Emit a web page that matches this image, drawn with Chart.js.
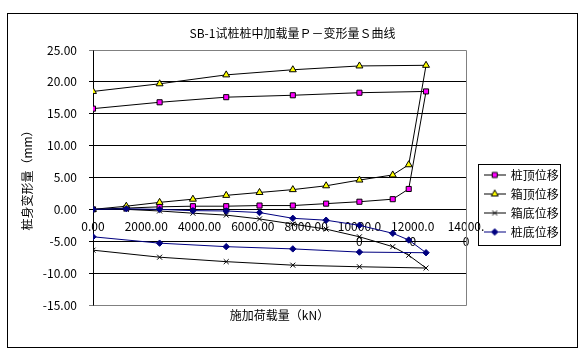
<!DOCTYPE html>
<html>
<head>
<meta charset="utf-8">
<script src="https://cdn.jsdelivr.net/npm/chart.js@4/dist/chart.umd.min.js"></script>
<style>
html,body{margin:0;padding:0;background:#fff;}
#wrap{width:585px;height:357px;}
</style>
</head>
<body>
<div id="wrap"><canvas id="c" width="585" height="357"></canvas></div>
<script>
// ---- data ----
const chartTitle = 'SB-1试桩桩中加载量Ｐ－变形量Ｓ曲线';
const xTitle = '施加荷载量（kN）';
const yTitle = '桩身变形量（mm）';
const seriesNames = ['桩顶位移', '箱顶位移', '箱底位移', '桩底位移'];
const loads = [0, 1250, 2500, 3750, 5000, 6250, 7500, 8750, 10000, 11250, 11850, 12500, 10000, 7500, 5000, 2500, 0];
const pileTop = [0, 0.2, 0.4, 0.5, 0.5, 0.6, 0.6, 0.9, 1.2, 1.6, 3.2, 18.5, 18.3, 17.9, 17.6, 16.8, 15.8];
const boxTop = [0, 0.5, 1.1, 1.6, 2.2, 2.65, 3.1, 3.7, 4.6, 5.4, 7.0, 22.6, 22.5, 21.9, 21.1, 19.7, 18.5];
const boxBottom = [0, 0, -0.25, -0.6, -0.9, -1.5, -2.3, -3.1, -4.3, -5.85, -7.2, -9.2, -9.0, -8.75, -8.2, -7.5, -6.4];
const pileBottom = [0, 0.1, 0, -0.2, -0.25, -0.5, -1.4, -1.7, -2.5, -3.75, -4.8, -6.8, -6.7, -6.2, -5.85, -5.3, -4.3];
const xTickLabels = ['0.00', '2000.00', '4000.00', '6000.00', '8000.00', ['10000.0', '0'], ['12000.0', '0'], ['14000.', '0']];

// ---- styles ----
const styles = [
  {line: '#000000', fill: '#FF00FF', border: '#000000', shape: 'rect', r: 3.6},
  {line: '#000000', fill: '#FFFF00', border: '#000000', shape: 'triangle', r: 4},
  {line: '#000000', fill: '#000000', border: '#000000', shape: 'crossRot', r: 3.5},
  {line: '#000080', fill: '#000080', border: '#000080', shape: 'rectRot', r: 3.2}
];
const seriesValues = [pileTop, boxTop, boxBottom, pileBottom];

function makeIcon(st) {
  const cv = document.createElement('canvas');
  cv.width = 22; cv.height = 11;
  const g = cv.getContext('2d');
  g.strokeStyle = st.line; g.lineWidth = 1;
  g.beginPath(); g.moveTo(0, 5.5); g.lineTo(22, 5.5); g.stroke();
  g.fillStyle = st.fill; g.strokeStyle = st.border; g.lineWidth = 1;
  Chart.helpers.drawPoint(g, {pointStyle: st.shape, radius: st.r, borderWidth: 1, rotation: 0}, 11, 5.5);
  return cv;
}

const datasets = seriesValues.map((vals, i) => ({
  label: seriesNames[i],
  data: loads.map((x, k) => ({x: x, y: vals[k]})),
  showLine: true,
  borderColor: styles[i].line,
  borderWidth: 1,
  backgroundColor: styles[i].fill,
  pointStyle: styles[i].shape,
  pointRadius: styles[i].r,
  pointBackgroundColor: styles[i].fill,
  pointBorderColor: styles[i].border,
  pointBorderWidth: 1,
  tension: 0,
  yAxisID: 'y',
  order: 3 - i
}));

const framePlugin = {
  id: 'frame',
  beforeDraw(chart) {
    const c = chart.ctx;
    c.save(); c.fillStyle = '#fff'; c.fillRect(0, 0, chart.width, chart.height); c.restore();
  },
  afterLayout(chart) {
    const lg = chart.legend;
    if (lg) {
      lg.left = 477.7; lg.top = 162; lg.right = lg.left + 100; lg.bottom = lg.top + 100;
      lg.width = 100; lg.height = 100;
    }
  },
  beforeDatasetsDraw(chart) {
    const a = chart.chartArea, c = chart.ctx;
    c.save();
    c.strokeStyle = '#808080'; c.lineWidth = 1;
    c.beginPath();
    c.moveTo(Math.round(a.left) + 0.5, Math.round(a.top) + 0.5);
    c.lineTo(Math.round(a.right) + 0.5, Math.round(a.top) + 0.5);
    c.lineTo(Math.round(a.right) + 0.5, Math.round(a.bottom) + 0.5);
    c.lineTo(Math.round(a.left) + 0.5, Math.round(a.bottom) + 0.5);
    c.stroke();
    c.restore();
  },
  afterDraw(chart) {
    const c = chart.ctx;
    c.save();
    c.strokeStyle = '#000'; c.lineWidth = 1;
    c.strokeRect(7.5, 13.5, 570, 334);
    c.strokeRect(478.5, 164.5, 82, 81);
    c.restore();
  }
};

Chart.defaults.font.family = "'SimSun','Noto Sans CJK SC','DejaVu Sans',sans-serif";
Chart.defaults.font.size = 12;
Chart.defaults.color = '#000';

new Chart(document.getElementById('c'), {
  type: 'scatter',
  data: {datasets: datasets},
  options: {
    responsive: false,
    animation: false,
    devicePixelRatio: 1,
    layout: {padding: {left: 0, right: 0, top: 0, bottom: 0}},
    scales: {
      x: {
        type: 'linear',
        position: {y: 0},
        min: 0, max: 14000,
        grid: {display: true, drawOnChartArea: false, drawTicks: false},
        border: {display: true, color: '#000', width: 1},
        ticks: {
          stepSize: 2000, autoSkip: false, maxRotation: 0, padding: 10,
          font: {size: 12},
          callback: (v, i) => xTickLabels[i]
        }
      },
      y: {
        type: 'linear',
        position: 'left',
        min: -15, max: 25,
        afterFit: (s) => { s.width = 93; },
        grid: {
          color: (ctx) => (ctx.tick && (ctx.tick.value === 25 || ctx.tick.value === -15)) ? '#808080' : '#000',
          lineWidth: 1, tickLength: 4, drawTicks: true
        },
        border: {display: true, color: '#000', width: 1},
        ticks: {stepSize: 5, padding: 12, font: {size: 12}, callback: (v) => v.toFixed(2)},
        title: {display: true, text: yTitle, font: {size: 12}, padding: {top: 20, bottom: 0}}
      },
      spacer: {
        type: 'linear',
        position: 'right',
        min: 0, max: 1,
        afterFit: (s) => { s.width = 119; },
        grid: {display: false},
        border: {display: false},
        ticks: {display: false}
      }
    },
    plugins: {
      title: {display: true, text: chartTitle, font: {size: 12, weight: 'normal'}, padding: {top: 26, bottom: 9.6}, color: '#000'},
      subtitle: {display: true, text: xTitle, position: 'bottom', fullSize: false, font: {size: 12}, padding: {top: 3.6, bottom: 34}, color: '#000'},
      legend: {
        display: true,
        position: 'chartArea',
        align: 'start',
        labels: {
          usePointStyle: true,
          pointStyleWidth: 20,
          padding: 7,
          font: {size: 12},
          color: '#000',
          generateLabels: (chart) => chart.data.datasets.map((ds, i) => ({
            text: ds.label,
            pointStyle: makeIcon(styles[i]),
            fillStyle: styles[i].fill,
            strokeStyle: styles[i].border,
            lineWidth: 0,
            hidden: false,
            datasetIndex: i,
            fontColor: '#000'
          }))
        }
      },
      tooltip: {enabled: false}
    }
  },
  plugins: [framePlugin]
});
</script>
</body>
</html>
